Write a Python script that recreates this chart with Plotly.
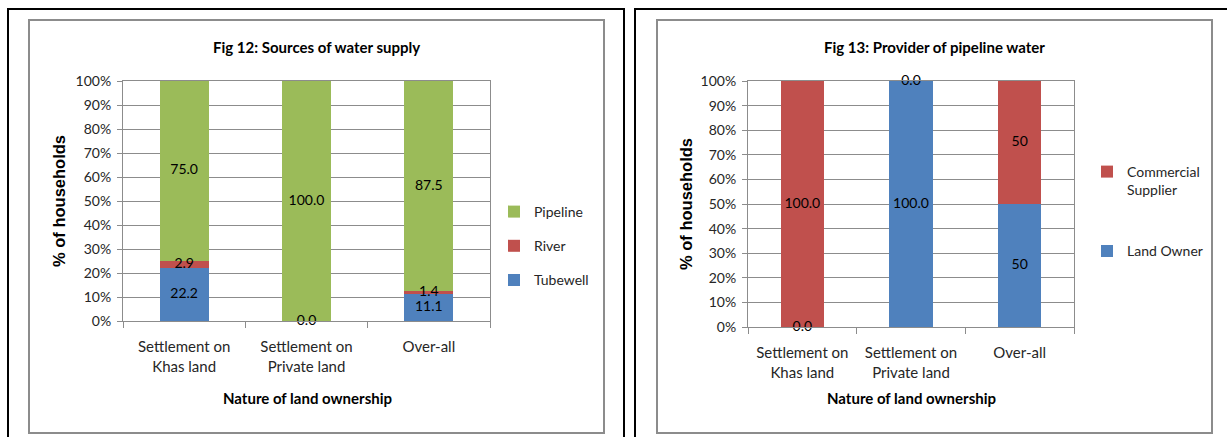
import plotly.graph_objects as go

W, H = 1227, 437

# ---- data -------------------------------------------------------------
categories = ["Settlement on<br>Khas land", "Settlement on<br>Private land", "Over-all"]

# Fig 12: sources of water supply (% of households)
tubewell = [22.2, 0.0, 11.1]
river = [2.9, 0.0, 1.4]
pipeline = [75.0, 100.0, 87.5]

# Fig 13: provider of pipeline water (% of households)
land_owner = [0.0, 100.0, 50]
commercial = [100.0, 0.0, 50]

y_ticks = [0, 10, 20, 30, 40, 50, 60, 70, 80, 90, 100]
y_tick_text = [f"{v}%" for v in y_ticks]

# ---- styling ----------------------------------------------------------
BLUE, RED, GREEN = "#4F81BD", "#C0504D", "#9BBB59"
GRID = "#8C8C8C"
TXT = "#262626"
FONT = "Lato, 'Open Sans', sans-serif"


def px_x(p):
    return p / W


def px_y(p):
    return 1 - p / H


fig = go.Figure()


def stacked(series, names, colors, ranks, xa, ya, legend):
    """Add a stacked bar group plus centred value labels for one chart."""
    base = [0.0] * len(categories)
    placed = [set() for _ in categories]
    for vals, name, col, rank in zip(series, names, colors, ranks):
        fig.add_trace(go.Bar(
            x=categories, y=vals, name=name, marker_color=col,
            marker_line_width=0, width=0.4, xaxis=xa, yaxis=ya,
            legend=legend, legendgroup=name, legendrank=rank,
            hoverinfo="skip",
        ))
        mids = [b + v / 2 for b, v in zip(base, vals)]
        labels = []
        for i, (m, v) in enumerate(zip(mids, vals)):
            # two empty segments at the same spot share one label
            if round(m, 3) in placed[i]:
                labels.append("")
            else:
                placed[i].add(round(m, 3))
                labels.append(str(v))
        fig.add_trace(go.Scatter(
            x=categories, y=mids, mode="text", text=labels,
            textfont=dict(family=FONT, size=14, color="#000000"),
            xaxis=xa, yaxis=ya, showlegend=False, cliponaxis=False,
            hoverinfo="skip",
        ))
        base = [b + v for b, v in zip(base, vals)]


stacked([tubewell, river, pipeline], ["Tubewell", "River", "Pipeline"],
        [BLUE, RED, GREEN], [3, 2, 1], "x", "y", "legend")
stacked([land_owner, commercial], ["Land Owner", "Commercial<br>Supplier"],
        [BLUE, RED], [2, 1], "x2", "y2", "legend2")

axis_common = dict(showline=True, linecolor=GRID, linewidth=1, mirror=True,
                   automargin=False)

xaxis_style = dict(type="category", tickson="boundaries", ticks="outside",
                   ticklen=6, tickcolor=GRID, showgrid=False,
                   ticklabelstandoff=12,
                   tickfont=dict(family=FONT, size=15, color=TXT),
                   **axis_common)
yaxis_style = dict(range=[0, 100], tickvals=y_ticks, ticktext=y_tick_text,
                   ticks="outside", ticklen=5, tickcolor=GRID,
                   ticklabelstandoff=3,
                   showgrid=True, gridcolor=GRID, gridwidth=1, zeroline=False,
                   tickfont=dict(family=FONT, size=14, color=TXT),
                   **axis_common)

fig.update_layout(
    width=W, height=H,
    margin=dict(l=0, r=0, t=0, b=0, pad=0, autoexpand=False),
    paper_bgcolor="white", plot_bgcolor="white",
    barmode="stack", bargap=0.6,
    showlegend=True,
    xaxis=dict(domain=[px_x(123), px_x(490)], anchor="y", **xaxis_style),
    yaxis=dict(domain=[px_y(321), px_y(81)], anchor="x", **yaxis_style),
    xaxis2=dict(domain=[px_x(748), px_x(1074)], anchor="y2", **xaxis_style),
    yaxis2=dict(domain=[px_y(327), px_y(81)], anchor="x2", **yaxis_style),
    legend=dict(x=px_x(494), y=px_y(196), xanchor="left", yanchor="top",
                traceorder="grouped", tracegroupgap=13,
                font=dict(family=FONT, size=14, color=TXT),
                bgcolor="rgba(0,0,0,0)"),
    legend2=dict(x=px_x(1087), y=px_y(156), xanchor="left", yanchor="top",
                 traceorder="grouped", tracegroupgap=40, valign="top",
                 font=dict(family=FONT, size=14, color=TXT),
                 bgcolor="rgba(0,0,0,0)"),
)

# ---- titles -----------------------------------------------------------
ann = []
for cx, text in [(316, "Fig 12: Sources of water supply"),
                 (934, "Fig 13: Provider of pipeline water")]:
    ann.append(dict(x=px_x(cx), y=px_y(47), text=f"<b>{text}</b>",
                    font=dict(family=FONT, size=15, color="#000000")))
for cx in (307, 911):
    ann.append(dict(x=px_x(cx), y=px_y(398),
                    text="<b>Nature of land ownership</b>",
                    font=dict(family=FONT, size=15, color="#000000")))
for cx, cy in [(59, 201), (686, 204)]:
    ann.append(dict(x=px_x(cx), y=px_y(cy), text="<b>% of households</b>",
                    textangle=-90,
                    font=dict(family="'Liberation Sans', Arial, sans-serif",
                              size=16.5, color="#000000")))
for a in ann:
    a.update(xref="paper", yref="paper", xanchor="center", yanchor="middle",
             showarrow=False)
fig.update_layout(annotations=ann)

# ---- panel frames -----------------------------------------------------
shapes = [
    # outer black frames
    dict(type="rect", x0=px_x(8), x1=px_x(624), y0=-0.1, y1=px_y(9),
         line=dict(color="#000000", width=2)),
    dict(type="rect", x0=px_x(635), x1=1.05, y0=-0.1, y1=px_y(9),
         line=dict(color="#000000", width=2)),
    # grey chart-area borders
    dict(type="rect", x0=px_x(29), x1=px_x(604), y0=px_y(433), y1=px_y(20),
         line=dict(color="#8C8C8C", width=2)),
    dict(type="rect", x0=px_x(657), x1=px_x(1212), y0=px_y(433), y1=px_y(20),
         line=dict(color="#8C8C8C", width=2)),
]
for s in shapes:
    s.update(xref="paper", yref="paper", layer="above")
fig.update_layout(shapes=shapes)

fig.write_html("out.html")
